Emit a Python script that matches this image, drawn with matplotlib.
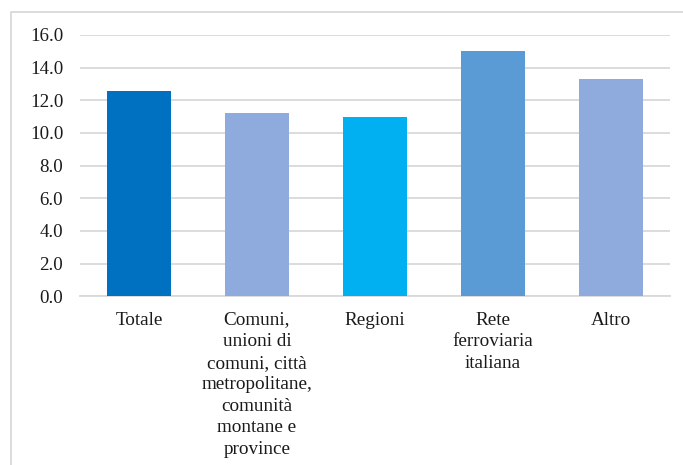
import matplotlib.pyplot as plt
from matplotlib.lines import Line2D

categorie = [
    "Totale",
    "Comuni,\nunioni di\ncomuni, città\nmetropolitane,\ncomunità\nmontane e\nprovince",
    "Regioni",
    "Rete\nferroviaria\nitaliana",
    "Altro",
]
valori = [12.6, 11.2, 11.0, 15.0, 13.3]
colori = ["#0070C0", "#8FAADC", "#00B0F0", "#5B9BD5", "#8FAADC"]
yticks = [0, 2, 4, 6, 8, 10, 12, 14, 16]

W, H = 683, 465
plt.rcParams["font.family"] = ["Liberation Serif", "DejaVu Serif"]

fig = plt.figure(figsize=(W / 100, H / 100), dpi=100)
ax = fig.add_axes([80 / W, 1 - 296.3 / H, 590 / W, (296.3 - 35) / H])

x = range(len(categorie))
ax.bar(x, valori, width=0.535, color=colori, zorder=3)

ax.set_xlim(-0.5, len(categorie) - 0.5)
ax.set_ylim(0, 16)
ax.set_yticks(yticks)
ax.set_yticklabels([f"{v:.1f}" for v in yticks], fontsize=13.6, color="#1a1a1a")
ax.set_xticks(list(x))
ax.set_xticklabels(categorie, fontsize=13.8, color="#1a1a1a", linespacing=1.35,
                   va="top")
ax.tick_params(axis="both", length=0)
ax.tick_params(axis="y", pad=12)
ax.tick_params(axis="x", pad=11)

ax.grid(axis="y", color="#D9D9D9", linewidth=1.3, zorder=0)
for s in ["top", "right", "left"]:
    ax.spines[s].set_visible(False)
ax.spines["bottom"].set_color("#D9D9D9")
ax.spines["bottom"].set_linewidth(1.3)

# cornice esterna del grafico (tagliata a destra e in basso)
fig.add_artist(Line2D([11 / W, 11 / W, 1.0], [0.0, 1 - 12 / H, 1 - 12 / H],
                      transform=fig.transFigure, color="#D9D9D9", linewidth=1.3))

fig.savefig("out.png", dpi=100)
